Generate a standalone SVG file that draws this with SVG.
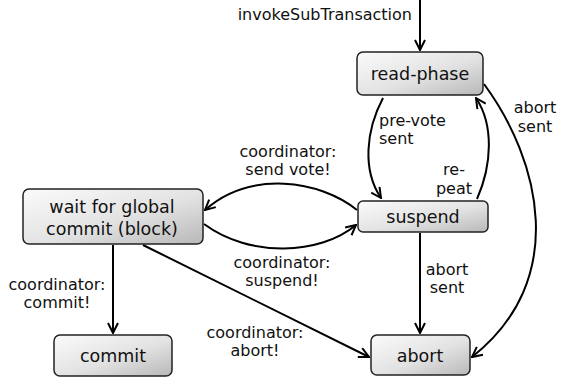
<svg xmlns="http://www.w3.org/2000/svg" width="567" height="380" viewBox="0 0 567 380">
<defs>
<linearGradient id="g" x1="0" y1="0" x2="1" y2="1">
<stop offset="0" stop-color="#fbfbfb"/>
<stop offset="0.55" stop-color="#e2e2e2"/>
<stop offset="1" stop-color="#b8b8b8"/>
</linearGradient>
<marker id="ah" viewBox="0 0 12 12" refX="11" refY="6" markerWidth="12" markerHeight="12" markerUnits="userSpaceOnUse" orient="auto">
<path d="M1,1 L11,6 L1,11" fill="none" stroke="#000" stroke-width="2"/>
</marker>
</defs>
<style>
.box{fill:url(#g);stroke:#222;stroke-width:1.5}
text{font-family:"DejaVu Sans",Verdana,sans-serif;font-size:16px;fill:#111}
.n text{font-size:17.5px}
.c{text-anchor:middle}
.e{fill:none;stroke:#000;stroke-width:2;marker-end:url(#ah)}
</style>
<g id="connectors">
<path class="e" d="M420,0 L420,50"/>
<path class="e" d="M383,98 C366,130 362,170 381,198"/>
<path class="e" d="M477,199 C492,165 494,125 476,98"/>
<path class="e" d="M484,84 C540,160 570,280 472,357"/>
<path class="e" d="M357,210 C320,180 250,170 205,210"/>
<path class="e" d="M204,224 C250,258 320,255 356,225"/>
<path class="e" d="M143,245 L369,357"/>
<path class="e" d="M113,245 L113,333"/>
<path class="e" d="M420,233 L420,333"/>
</g>
<g id="labels">
<text x="412" y="20" text-anchor="end">invokeSubTransaction</text>
<text x="379" y="126">pre-vote</text>
<text x="379" y="144">sent</text>
<text class="c" x="454" y="175">re-</text>
<text class="c" x="454" y="194">peat</text>
<text class="c" x="535" y="113">abort</text>
<text class="c" x="535" y="132">sent</text>
<text class="c" x="288" y="157">coordinator:</text>
<text class="c" x="288" y="175">send vote!</text>
<text class="c" x="282" y="268">coordinator:</text>
<text class="c" x="282" y="286">suspend!</text>
<text class="c" x="447" y="275">abort</text>
<text class="c" x="447" y="293">sent</text>
<text class="c" x="57" y="290">coordinator:</text>
<text class="c" x="57" y="308">commit!</text>
<text class="c" x="255" y="338">coordinator:</text>
<text class="c" x="255" y="356">abort!</text>
</g>
<g id="read-phase" class="n">
<rect class="box" x="357" y="52" width="126" height="43" rx="6"/>
<text class="c" x="420" y="80">read-phase</text>
</g>
<g id="suspend" class="n">
<rect class="box" x="358" y="201" width="130" height="31" rx="5"/>
<text class="c" x="423" y="223">suspend</text>
</g>
<g id="wait" class="n">
<rect class="box" x="23" y="189" width="180" height="55" rx="6"/>
<text class="c" x="112" y="213">wait for global</text>
<text class="c" x="112" y="235">commit (block)</text>
</g>
<g id="commit" class="n">
<rect class="box" x="54" y="335" width="118" height="41" rx="6"/>
<text class="c" x="113" y="362">commit</text>
</g>
<g id="abort" class="n">
<rect class="box" x="371" y="335" width="99" height="40" rx="6"/>
<text class="c" x="420" y="362">abort</text>
</g>
</svg>
